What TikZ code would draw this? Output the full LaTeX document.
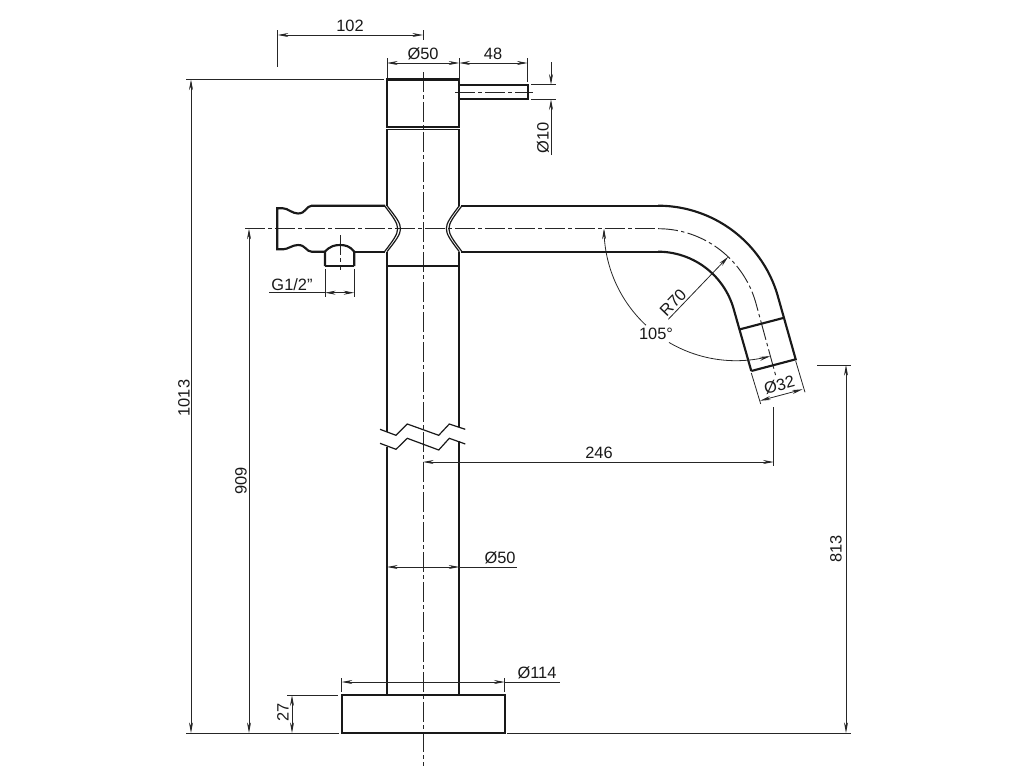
\documentclass[tikz,border=0pt]{standalone}
\usepackage{fontspec}
\setmainfont{Liberation Sans}
\usetikzlibrary{arrows.meta}
\tikzset{>={Stealth[length=8pt,width=3pt]},samples=60,
  outl/.style={line width=1.6pt,black!90},
  seam/.style={line width=0.9pt,black!90},
  dimn/.style={line width=0.6pt,black!85},
  axisln/.style={line width=0.7pt,black!85,dash pattern=on 15pt off 2.5pt on 2.5pt off 2.5pt},
  dimtext/.style={inner sep=0pt,black!90,font=\fontsize{12.3}{14}\selectfont}}

\begin{document}
\begin{tikzpicture}[x=0.75pt,y=-0.75pt]
    \useasboundingbox (0,0) rectangle (1024,768);
    % centre lines
    \draw [axisln] (423,72) -- (423,766);
    \draw [axisln] (245,228.7) -- (658,228.7);
    \draw [axisln,domain=-90:-15] plot ({658+101.6*cos(\x)},{330.3+101.6*sin(\x)}) -- (776,376.7);
    \draw [axisln] (455,92) -- (533,92);
    \draw [axisln] (340,235) -- (340,270);
    % lever and top block
    \draw [outl] (387,79.5) rectangle (459.3,126.7);
    \draw [outl] (459.3,84.7) -- (527.6,84.7) -- (527.6,99.3) -- (459.3,99.3);
    % body
    \draw [seam] (387,129.5) -- (459.3,129.5);
    \draw [outl] (387,129) -- (387,206);
    \draw [outl] (459.3,129) -- (459.3,206);
    \draw [outl] (387,252) -- (387,432);
    \draw [outl] (459.3,252) -- (459.3,427);
    \draw [outl] (387,447) -- (387,695.3);
    \draw [outl] (459.3,441) -- (459.3,695.3);
    \draw [outl] (387,266) -- (459.3,266);
    % junction seams
    \draw [seam] (387,205.7) .. controls (405,228.7) .. (387,251.7);
    \draw [seam] (384.5,205.7) .. controls (402,228.7) .. (384.5,251.7);
    \draw [seam] (459.3,205.7) .. controls (442,228.7) .. (459.3,251.7);
    \draw [seam] (462,205.7) .. controls (444.6,228.7) .. (462,251.7);
    % rear stub and outlet fitting
    \draw [outl] (385,205.7) -- (311.7,205.7) .. controls (306,206) and (306,213.5) .. (298,213.5) .. controls (292,213.5) and (288,208.3) .. (283,208.3) -- (277.3,208.3) -- (277.3,249.3) -- (283,249.3) .. controls (288,249.3) and (292,245) .. (298,245) .. controls (306,245) and (306,251.7) .. (311.7,251.7) -- (325,251.7);
    \draw [outl] (354.3,251.7) -- (385,251.7);
    \draw [outl] (325,266) -- (325,251.7) .. controls (330,246) and (335,245) .. (340,245) .. controls (345,245) and (350,246) .. (354.3,251.7) -- (354.3,266);
    \draw [line width=2pt,black!90] (325,266) -- (354.3,266);
    % spout
    \draw [outl] (461,205.7) -- (658,205.7);
    \draw [outl] (461,251.7) -- (658,251.7);
    \draw [outl,domain=-90:-15] plot ({658+124.6*cos(\x)},{330.3+124.6*sin(\x)}) -- (795.7,359.3) -- (751.3,371);
    \draw [outl,domain=-90:-15] plot ({658+78.6*cos(\x)},{330.3+78.6*sin(\x)}) -- (751.3,371);
    \draw [outl] (740,329.3) -- (784.3,317.7);
    % break lines
    \draw [seam] (380,429.3) -- (396,435.3) -- (407.3,424) -- (438.7,435.3) -- (449.3,424) -- (465.3,429.3);
    \draw [seam] (380,443.3) -- (396,449.3) -- (407.3,438.3) -- (438.7,450) -- (449.3,438.3) -- (465.3,444);
    % base
    \draw [outl] (341.7,695.3) rectangle (504.7,733);
    % extension lines
    \draw [dimn] (186,79.5) -- (384,79.5);
    \draw [dimn] (186,733) -- (339,733);
    \draw [dimn] (507,733) -- (851,733);
    \draw [dimn] (277.7,30) -- (277.7,67);
    \draw [dimn] (423,30) -- (423,40);
    \draw [dimn] (387,58) -- (387,78);
    \draw [dimn] (459.3,58) -- (459.3,82);
    \draw [dimn] (527.6,58) -- (527.6,82);
    \draw [dimn] (531,84.7) -- (556,84.7);
    \draw [dimn] (531,99.3) -- (556,99.3);
    \draw [dimn] (325,269) -- (325,297);
    \draw [dimn] (354.3,269) -- (354.3,297);
    \draw [dimn] (287,695.3) -- (338,695.3);
    \draw [dimn] (341.7,678) -- (341.7,692);
    \draw [dimn] (504.7,678) -- (504.7,692);
    \draw [dimn] (773.7,407) -- (773.7,466);
    \draw [dimn] (817,365) -- (851,365);
    \draw [dimn] (751.3,373) -- (760.7,404);
    \draw [dimn] (795.7,361) -- (805,392.3);
    % dimensions
    \draw [dimn,<->] (277.7,35) -- (423,35);
    \draw [dimn,<->] (387,63) -- (459.3,63);
    \draw [dimn,<->] (459.3,63) -- (527.6,63);
    \draw [dimn,->] (551,62) -- (551,84.7);
    \draw [dimn,->] (551,155) -- (551,99.3);
    \draw [dimn,<->] (191,79.5) -- (191,733);
    \draw [dimn,<->] (249,228.7) -- (249,733);
    \draw [dimn,<->] (292,695.3) -- (292,733);
    \draw [dimn,<->] (846,365) -- (846,733);
    \draw [dimn,<->] (423,462) -- (773.7,462);
    \draw [dimn,<->] (387,567) -- (459.3,567);
    \draw [dimn] (459.3,567) -- (517,567);
    \draw [dimn,<->] (341.7,682) -- (504.7,682);
    \draw [dimn] (504.7,682) -- (560,682);
    \draw [dimn] (269.3,292.7) -- (325,292.7);
    \draw [dimn,<->] (325,292.7) -- (354.3,292.7);
    \draw [dimn,<->] (760,400.7) -- (802.7,389.3);
    \draw [dimn,->] (668.3,319.3) -- (728.3,256.7);
    \draw [dimn,<-,domain=180:133] plot ({736+132*cos(\x)},{228.7+132*sin(\x)});
    \draw [dimn,->,domain=120.5:75] plot ({736+132*cos(\x)},{228.7+132*sin(\x)});
    % labels
    \node [dimtext] (lbltop) at (350,26) {102};
    \node [dimtext] (lbldia) at (423,54) {Ø50};
    \node [dimtext] (lbllever) at (493,54) {48};
    \node [dimtext,rotate=90] (lblpin) at (543,138) {Ø10};
    \node [dimtext,rotate=90] (lblheight) at (184,398) {1013};
    \node [dimtext,rotate=90] (lblaxis) at (241,481) {909};
    \node [dimtext,rotate=90] (lblbase) at (283,712) {27};
    \node [dimtext,rotate=90] (lblrim) at (836,549) {813};
    \node [dimtext] (lblthread) at (292,285) {G1/2"};
    \node [dimtext,rotate=46] (lblradius) at (673,302.7) {R70};
    \node [dimtext] (lblangle) at (656,334.3) {105°};
    \node [dimtext,rotate=15] (lblnozzle) at (779.3,385) {Ø32};
    \node [dimtext] (lblreach) at (599,453) {246};
    \node [dimtext] (lblstem) at (500,558) {Ø50};
    \node [dimtext] (lblfoot) at (537,673) {Ø114};
\end{tikzpicture}
\end{document}
